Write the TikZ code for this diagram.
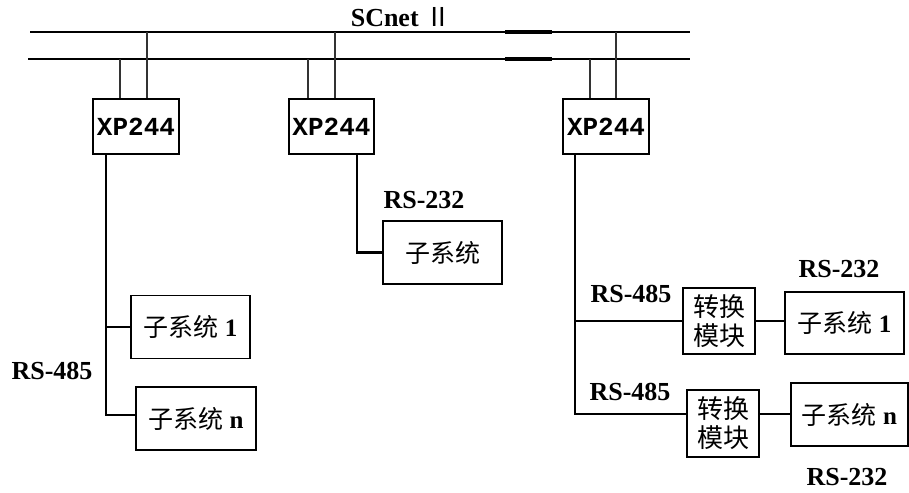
\documentclass[tikz,border=0pt]{standalone}
\usepackage{fontspec}
\setmainfont{Liberation Serif}
\newfontfamily\cjk{Noto Sans CJK SC}
\newfontfamily\xpmono{Liberation Mono}
\usepackage{tikz}
\usetikzlibrary{positioning, calc}
\tikzset{
  xpbox/.style   = {rectangle, draw=black, line width=1.2pt, inner sep=0pt,
                    minimum width=86pt, minimum height=55pt,
                    font=\xpmono\bfseries\fontsize{26}{28}\selectfont},
  subsys/.style  = {rectangle, draw=black, line width=1.2pt, inner sep=0pt,
                    minimum width=119pt, minimum height=63pt,
                    font=\fontsize{25}{28}\selectfont},
  convbox/.style = {rectangle, draw=black, line width=1.2pt, inner sep=0pt,
                    minimum width=72pt, minimum height=66pt, align=center,
                    font=\cjk\fontsize{26}{29}\selectfont},
  lbl/.style     = {inner sep=0pt, font=\bfseries\fontsize{26}{28}\selectfont},
  busline/.style = {line width=2.6pt, draw=black},
  tap/.style     = {line width=1.6pt, draw=black!80},
  link/.style    = {line width=2.4pt, draw=black},
}
\begin{document}
\begin{tikzpicture}[x=1pt, y=-1pt]
  \useasboundingbox (0,0) rectangle (909,492);

  % SCnet bus
  \node[lbl] (net) at (401,17) {SCnet {\cjk\mdseries Ⅱ}};
  \coordinate (bus1w) at (30,32);
  \coordinate (bus1e) at (690,32);
  \coordinate (bus2w) at (28,59);
  \coordinate (bus2e) at (690,59);
  \draw[busline] (bus1w) -- (bus1e);
  \draw[busline] (bus2w) -- (bus2e);
  \draw[line width=3.4pt] (505,0 |- bus1w) -- (552,0 |- bus1w);
  \draw[line width=3.4pt] (505,0 |- bus2w) -- (552,0 |- bus2w);

  % stations
  \node[xpbox] (xp1) at (136,126.5) {XP244};
  \node[xpbox, minimum width=85pt] (xp2) at (331.5,126.5) {XP244};
  \node[xpbox] (xp3) at (606,126.5) {XP244};

  \draw[tap] (120,0 |- xp1.north) -- (120,0 |- bus2w);
  \draw[tap] (147,0 |- xp1.north) -- (147,0 |- bus1w);
  \draw[tap] (308,0 |- xp2.north) -- (308,0 |- bus2w);
  \draw[tap] (335,0 |- xp2.north) -- (335,0 |- bus1w);
  \draw[tap] (590,0 |- xp3.north) -- (590,0 |- bus2w);
  \draw[tap] (616,0 |- xp3.north) -- (616,0 |- bus1w);

  % left: RS-485 bus
  \node[subsys] (sl1) at (190.5,327) {{\cjk 子系统} \textbf{1}};
  \node[subsys, minimum width=120pt] (sln) at (196,418.5) {{\cjk 子系统} \textbf{n}};
  \node[lbl] (l485) at (52,371) {RS-485};
  \coordinate (t1) at (106,415);
  \draw[link] (t1 |- xp1.south) -- (t1) -- (sln.west |- t1);
  \draw[link] (t1 |- sl1.west) -- (sl1.west);

  % middle: RS-232
  \node[subsys] (sm) at (442.5,252.5) {\cjk 子系统};
  \node[lbl] (m232) at (424,200) {RS-232};
  \draw[link] (357,0 |- xp2.south) |- (sm.west);

  % right: RS-485 via converters
  \node[convbox] (cv1) at (719,321) {转换\\模块};
  \node[convbox, minimum height=67pt] (cv2) at (723,423.5) {转换\\模块};
  \node[subsys, minimum height=62pt] (sr1) at (844.5,323) {{\cjk 子系统} \textbf{1}};
  \node[subsys, minimum width=117pt] (srn) at (849.5,414.5) {{\cjk 子系统} \textbf{n}};
  \node[lbl] (r485a) at (631,294) {RS-485};
  \node[lbl] (r485b) at (630,392) {RS-485};
  \node[lbl] (r232a) at (839,269) {RS-232};
  \node[lbl] (r232b) at (847,477) {RS-232};
  \coordinate (t3) at (575,414);
  \draw[link] (t3 |- xp3.south) -- (t3) -- (cv2.west |- t3);
  \draw[link] (t3 |- cv1.west) -- (cv1.west);
  \draw[link] (cv1.east) -- (cv1.east -| sr1.west);
  \draw[link] (cv2.east |- t3) -- (srn.west |- t3);

\end{tikzpicture}
\end{document}
